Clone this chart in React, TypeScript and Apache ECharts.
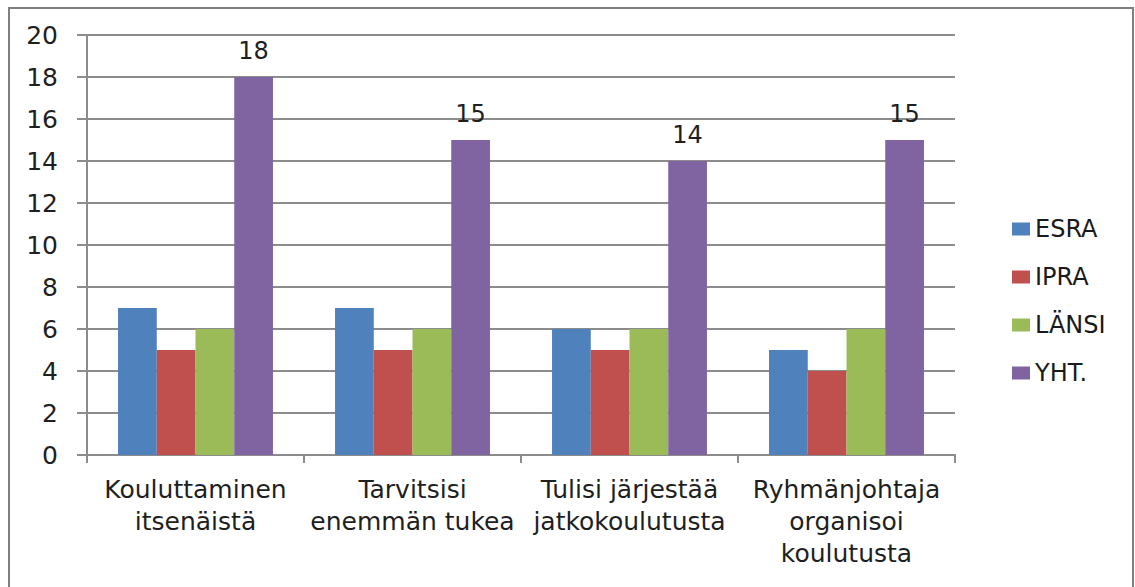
import React, { useEffect, useRef } from "react";
import * as echarts from "echarts";

const categories = [
  "Kouluttaminen\nitsenäistä",
  "Tarvitsisi\nenemmän tukea",
  "Tulisi järjestää\njatkokoulutusta",
  "Ryhmänjohtaja\norganisoi\nkoulutusta",
];
const seriesNames = ["ESRA", "IPRA", "LÄNSI", "YHT."];
const esra = [7, 7, 6, 5];
const ipra = [5, 5, 5, 4];
const lansi = [6, 6, 6, 6];
const yht = [18, 15, 14, 15];
const colors = ["#4F81BD", "#C0504D", "#9BBB59", "#8064A2"];

const FONT = "DejaVu Sans";

export default function App() {
  const ref = useRef<HTMLDivElement>(null);
  useEffect(() => {
    if (!ref.current) return;
    const chart = echarts.init(ref.current, null, { renderer: "svg" });
    const values = [esra, ipra, lansi, yht];
    chart.setOption({
      animation: false,
      backgroundColor: "#ffffff",
      graphic: [
        {
          type: "rect",
          shape: { x: 9, y: 8, width: 1124, height: 600 },
          style: { fill: "none", stroke: "#7f7f7f", lineWidth: 2 },
          silent: true,
        },
      ],
      legend: {
        orient: "vertical",
        left: 1007,
        top: 212,
        itemWidth: 18,
        itemHeight: 13,
        itemGap: 24,
        icon: "rect",
        textStyle: { fontFamily: FONT, fontSize: 24, color: "#1a1a1a", padding: [0, 0, 0, 0] },
        data: seriesNames,
      },
      grid: { left: 87, top: 35, right: 180, bottom: 132, containLabel: false },
      xAxis: {
        type: "category",
        data: categories,
        axisLine: { lineStyle: { color: "#8c8c8c", width: 2 } },
        axisTick: { show: true, length: 8, lineStyle: { color: "#8c8c8c", width: 2 } },
        axisLabel: {
          interval: 0,
          margin: 18,
          fontFamily: FONT,
          fontSize: 25,
          lineHeight: 32,
          color: "#1f1f1f",
          align: "center",
        },
      },
      yAxis: {
        type: "value",
        min: 0,
        max: 20,
        interval: 2,
        axisLine: { show: true, lineStyle: { color: "#8c8c8c", width: 2 } },
        axisTick: { show: true, length: 10, lineStyle: { color: "#8c8c8c", width: 2 } },
        splitLine: { lineStyle: { color: "#8c8c8c", width: 2 } },
        axisLabel: { margin: 29, fontFamily: FONT, fontSize: 25, color: "#1f1f1f" },
      },
      series: seriesNames.map((name, i) => ({
        name,
        type: "bar",
        data: values[i],
        barGap: "0%",
        barCategoryGap: "28.6%",
        itemStyle: { color: colors[i] },
        label:
          i === 3
            ? {
                show: true,
                position: "top",
                distance: 14,
                fontFamily: FONT,
                fontSize: 24,
                color: "#1f1f1f",
              }
            : { show: false },
      })),
    });
    return () => chart.dispose();
  }, []);
  return (
    <div
      ref={ref}
      style={{ position: "absolute", left: 0, top: 0, width: 1135, height: 587 }}
    />
  );
}
